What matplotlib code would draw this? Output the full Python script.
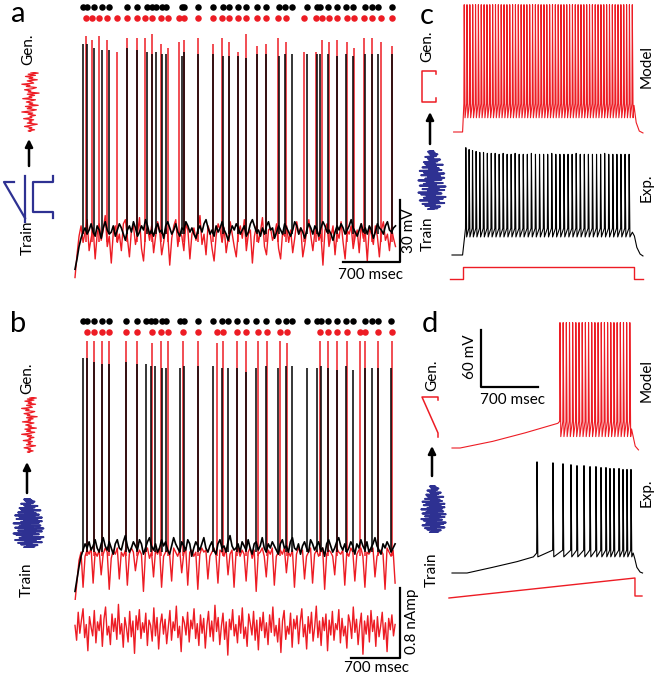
import numpy as np
import matplotlib
matplotlib.use("Agg")
import matplotlib.pyplot as plt

plt.rcParams['font.family'] = ['Lato', 'DejaVu Sans']

RED = '#ed1c24'
BLUE = '#2e3192'
W, H = 660, 676

# ---------------- data ----------------
# panel a : spike times (ms) and spike peaks (mV); black = experiment, red = model
a_blk_t = [98, 148, 234, 332, 418, 640, 763, 886, 947, 996, 1070, 1119, 1316, 1341, 1513, 1697,
           1820, 1894, 2005, 2103, 2239, 2349, 2509, 2583, 2669, 2853, 2977, 3014, 3112, 3223,
           3333, 3419, 3567, 3653, 3727, 3887]
a_blk_pk = [30, 30, 28, 27, 27, 28, 27, 26, 25, 26, 25, 25, 24, 26, 25, 25, 24, 24, 24, 23,
            25, 25, 24, 25, 25, 25, 25, 25, 25, 24, 25, 24, 25, 25, 25, 25]
a_red_t = [135, 209, 295, 394, 517, 640, 763, 861, 947, 1058, 1144, 1279, 1341, 1513, 1697, 1808,
           1894, 2005, 2103, 2239, 2349, 2497, 2595, 2817, 2964, 3038, 3124, 3223, 3346, 3432,
           3555, 3653, 3764, 3899]
a_red_pk = [34, 32, 34, 32, 26, 33, 33, 33, 35, 30, 28, 31, 32, 33, 30, 33, 31, 26, 35, 29,
            30, 33, 31, 26, 26, 32, 31, 32, 31, 28, 33, 33, 31, 29]
a_dur = 3936
a_blk_v = [-79, -74, -68, -64, -61, -59, -62, -60, -57, -61, -63, -58, -60, -64, -59, -56, -60, -62, -61, -58,
           -63, -60, -57, -59, -62, -65, -60, -58, -61, -56, -59, -63, -61, -58, -60, -55, -58, -62, -60, -63,
           -59, -57, -61, -60, -64, -58, -56, -59, -62, -60, -57, -61, -63, -59, -60, -56, -58, -61, -59, -62,
           -64, -60, -58, -61, -57, -55, -59, -62, -60, -63, -58, -61, -59, -56, -60, -62, -65, -61, -58, -60,
           -57, -59, -62, -60, -58, -63, -61, -57, -55, -58, -61, -60, -63, -59, -62, -58, -56, -60, -59, -64,
           -61, -58, -60, -62, -57, -59, -61, -63, -60, -56, -58, -62, -59, -61, -64, -60, -57, -59, -62, -58,
           -60, -63, -59, -56, -58, -61, -60, -62, -65, -61, -58, -60, -57, -59, -62, -60, -58, -55, -59, -61,
           -63, -60, -57, -61, -59, -62, -58, -60, -64, -61, -57, -59, -60, -62, -58, -56, -60, -61, -59, -58]
a_red_v = [-83, -72, -63, -58, -66, -61, -55, -70, -64, -59, -74, -62, -57, -65, -60, -53, -68, -63, -76, -61,
           -58, -66, -62, -70, -57, -55, -64, -73, -60, -58, -67, -62, -54, -69, -75, -61, -59, -65, -58, -71,
           -63, -56, -60, -72, -66, -59, -62, -77, -64, -58, -55, -68, -61, -63, -70, -57, -60, -74, -62, -59,
           -65, -60, -53, -67, -62, -72, -58, -61, -69, -75, -63, -57, -60, -66, -59, -71, -64, -56, -62, -68,
           -73, -61, -58, -64, -55, -70, -62, -60, -76, -63, -58, -66, -61, -54, -68, -72, -60, -59, -65, -62,
           -57, -69, -74, -61, -63, -58, -66, -60, -71, -64, -56, -62, -59, -73, -67, -60, -55, -63, -70, -61,
           -59, -65, -62, -77, -60, -57, -68, -63, -58, -72, -61, -64, -56, -66, -74, -60, -62, -58, -69, -63,
           -60, -71, -57, -64, -61, -75, -59, -62, -67, -58, -63, -73, -60, -56, -65, -62, -70, -59, -64, -68]

# panel b
b_blk_t = [114, 171, 272, 386, 486, 729, 886, 1015, 1086, 1143, 1243, 1300, 1500, 1558, 1758, 1972,
           2101, 2186, 2315, 2444, 2586, 2729, 2901, 3015, 3101, 3315, 3458, 3515, 3615, 3744,
           3873, 3973, 4144, 4244, 4330, 4516]
b_blk_pk = [32, 32, 30, 29, 29, 30, 29, 29, 28, 28, 27, 27, 27, 28, 28, 28, 27, 27, 27, 25,
            27, 28, 27, 28, 28, 27, 27, 28, 27, 26, 28, 26, 27, 27, 27, 27]
b_red_t = [171, 272, 386, 486, 729, 886, 1100, 1229, 1329, 1543, 1758, 2029, 2115, 2315, 2444,
           2615, 2744, 2929, 3030, 3501, 3615, 3744, 3887, 4073, 4144, 4330, 4530]
b_red_pk = [40, 40, 40, 40, 40, 40, 39, 40, 40, 40, 40, 39, 40, 40, 40,
            40, 40, 40, 39, 40, 40, 40, 40, 40, 40, 40, 40]
b_dur = 4573
b_blk_v = [-81, -75, -69, -64, -61, -58, -60, -57, -61, -59, -56, -60, -62, -58, -55, -59, -61, -57, -60, -63,
           -58, -56, -60, -61, -57, -54, -59, -62, -60, -57, -59, -61, -56, -58, -63, -60, -57, -55, -59, -61,
           -58, -62, -60, -56, -59, -57, -61, -63, -59, -55, -58, -60, -62, -57, -59, -61, -56, -58, -64, -60,
           -57, -59, -61, -58, -55, -60, -62, -59, -57, -61, -63, -58, -56, -60, -59, -62, -57, -54, -59, -61,
           -60, -58, -62, -57, -59, -61, -56, -60, -63, -58, -57, -61, -59, -55, -60, -62, -58, -60, -57, -59,
           -61, -63, -58, -56, -60, -59, -62, -57, -55, -60, -61, -58, -63, -59, -57, -60, -62, -56, -58, -61,
           -59, -57, -61, -60, -64, -58, -56, -59, -62, -60, -57, -55, -59, -61, -58, -62, -60, -57, -59, -63,
           -58, -60, -56, -59, -61, -57, -62, -60, -58, -55, -59, -61, -63, -58, -60, -57, -59, -62, -60, -58]
b_red_v = [-86, -76, -66, -62, -79, -64, -61, -63, -60, -77, -62, -64, -61, -73, -63, -60, -62, -80, -65, -61,
           -63, -60, -75, -62, -64, -61, -78, -63, -60, -62, -71, -64, -61, -63, -81, -62, -60, -65, -62, -74,
           -61, -63, -60, -79, -64, -62, -61, -63, -76, -60, -62, -64, -61, -72, -63, -60, -78, -62, -61, -64,
           -62, -80, -63, -60, -62, -61, -75, -64, -62, -60, -63, -77, -61, -62, -64, -60, -73, -63, -61, -79,
           -62, -60, -64, -61, -63, -76, -62, -60, -65, -61, -81, -63, -62, -60, -64, -74, -61, -63, -60, -78,
           -64, -62, -61, -63, -60, -72, -62, -64, -61, -79, -63, -60, -62, -61, -75, -64, -62, -60, -77, -63,
           -61, -64, -62, -60, -80, -63, -61, -62, -64, -73, -60, -62, -63, -61, -78, -62, -64, -60, -62, -76,
           -63, -61, -60, -64, -79, -62, -63, -61, -60, -74, -64, -62, -61, -63, -80, -60, -62, -64, -61, -77]
# injected current (nA)
b_i = [0.03, -0.14, 0.18, -0.06, 0.09, 0.22, -0.11, 0.04, -0.26, 0.13, 0.01, -0.09, 0.20, -0.17, 0.07, -0.03, 0.15, -0.21, 0.10, 0.24,
       -0.08, 0.02, -0.19, 0.16, -0.04, 0.11, -0.13, 0.27, -0.07, 0.05, -0.22, 0.12, 0.00, -0.16, 0.19, -0.10, 0.08, -0.29, 0.14, -0.02,
       0.21, -0.12, 0.06, -0.05, 0.17, -0.20, 0.09, 0.03, -0.15, 0.23, -0.09, 0.12, -0.24, 0.04, 0.16, -0.07, 0.10, -0.18, 0.01, 0.20,
       -0.14, 0.07, -0.03, 0.25, -0.11, 0.02, -0.27, 0.13, 0.06, -0.08, 0.18, -0.16, 0.09, -0.01, 0.22, -0.12, 0.05, -0.20, 0.15, -0.06,
       0.11, -0.23, 0.03, 0.19, -0.10, 0.08, -0.15, 0.26, -0.04, 0.12, -0.19, 0.02, 0.17, -0.13, 0.07, -0.31, 0.10, -0.02, 0.21, -0.09,
       0.04, -0.17, 0.14, -0.06, 0.23, -0.12, 0.01, -0.21, 0.16, 0.05, -0.08, 0.19, -0.14, 0.09, -0.25, 0.12, -0.03, 0.18, -0.11, 0.06,
       -0.19, 0.15, -0.05, 0.24, -0.09, 0.03, -0.16, 0.11, -0.28, 0.08, 0.20, -0.13, 0.02, -0.07, 0.17, -0.22, 0.10, -0.01, 0.14, -0.18,
       0.07, 0.22, -0.10, 0.04, -0.24, 0.13, -0.06, 0.18, -0.15, 0.01, 0.25, -0.11, 0.08, -0.20, 0.12, -0.03, 0.16, -0.26, 0.09, -0.08,
       0.19, -0.14, 0.05, -0.02, 0.21, -0.17, 0.11, -0.09, 0.02, -0.23, 0.15, 0.06, -0.12, 0.24, -0.05, 0.10, -0.19, 0.03, 0.17, -0.30,
       0.08, -0.07, 0.14, -0.16, 0.20, -0.04, 0.09, -0.21, 0.13, -0.10, 0.02, 0.18, -0.13, 0.06, -0.27, 0.11, -0.02, 0.15, -0.09, 0.04]

# panel c : step current, model (red) and experiment (black)
c_mod_t = [150, 184, 219, 254, 289, 324, 359, 394, 429, 464, 499, 534, 569, 604, 639, 674, 709, 744,
           779, 814, 849, 884, 919, 954, 989, 1024, 1059, 1094, 1129, 1164, 1199, 1234, 1269, 1304,
           1339, 1374, 1409, 1444, 1479, 1514, 1549, 1584, 1619, 1654, 1689, 1724, 1759, 1794, 1829,
           1864, 1899, 1934, 1969, 2004, 2039, 2074, 2109, 2144, 2179, 2214]
c_mod_pk = 64
c_exp_t = [170, 210, 252, 296, 341, 387, 434, 482, 530, 579, 628, 677, 726, 775, 825, 875, 925, 975,
           1025, 1075, 1125, 1175, 1225, 1275, 1325, 1375, 1425, 1475, 1525, 1575, 1625, 1675, 1725,
           1775, 1825, 1875, 1925, 1975, 2025, 2075, 2125, 2175]
c_exp_pk = [43, 41, 40, 39, 38, 38, 37, 37, 37, 36, 37, 36, 36, 37, 36, 36, 36, 37, 36, 36,
            36, 36, 37, 36, 36, 36, 36, 36, 37, 36, 36, 36, 36, 36, 36, 37, 36, 36, 36, 36, 36, 36]
c_stim_t = [-20, 130, 130, 2235, 2235, 2345]
c_stim_i = [0, 0, 0.3, 0.3, 0, 0]

# panel d : ramp current
d_mod_pre_t = [0, 100, 500, 900, 1300]
d_mod_pre_v = [-70, -70, -63, -54, -44]
d_mod_t = [1326, 1365, 1404, 1443, 1482, 1521, 1560, 1599, 1638, 1677, 1716, 1755, 1794, 1833,
           1872, 1911, 1950, 1989, 2028, 2067, 2106, 2145, 2184]
d_mod_pk = 62
d_exp_pre_t = [0, 185, 500, 800, 1000, 1040]
d_exp_pre_v = [-70, -70, -64, -58, -53, -49]
d_exp_t = [1044, 1240, 1363, 1461, 1535, 1621, 1695, 1768, 1830, 1891, 1940, 1989, 2051, 2100, 2149, 2198]
d_exp_pk = [47, 46, 45, 44, 43, 43, 42, 42, 41, 41, 40, 40, 40, 39, 39, 39]
d_stim_t = [-37, 2247, 2247, 2333]
d_stim_i = [0, 0.5, 0.05, 0.05]

# icon stimuli (normalised)
gen_icon = [0.1, -0.2, 0.5, -0.1, 0.2, -0.6, 0.1, 0.8, -0.3, 0.2, -0.1, 0.4, -0.7, 0.2, 0.0, 0.6, -0.2,
            0.3, -0.9, 0.1, 0.7, -0.3, 0.2, -0.5, 0.9, -0.1, 0.3, -0.4, 0.1, 0.6, -0.8, 0.2, -0.1, 0.5,
            -0.3, 1.0, -0.2, 0.1, -0.6, 0.3, 0.7, -0.4, 0.0, -0.9, 0.4, 0.2, -0.3, 0.8, -0.1, 0.3, -0.5,
            0.6, -0.2, 0.9, 0.1]
train_icon = [0.1, -0.3, 0.4, -0.1, 0.6, -0.5, 0.2, -0.7, 0.9, -0.2, 0.5, -0.9, 0.3, 0.8, -0.6, 1.0,
              -0.4, 0.2, -0.8, 0.7, -1.0, 0.4, -0.3, 0.9, -0.7, 0.5, -0.2, 1.0, -0.9, 0.3, -0.6, 0.8,
              -0.4, 0.1, -1.0, 0.7, -0.5, 0.9, -0.3, 0.6, -0.8, 0.2, 0.9, -0.6, 0.4, -0.9, 0.7, -0.2,
              0.5, -0.7, 0.3, -0.4, 0.8, -0.5, 0.2, -0.6, 0.4, -0.2, 0.6, -0.3, 0.1, -0.5, 0.3, -0.1,
              0.4, -0.2, 0.2, -0.3, 0.1, -0.1]

# ---------------- figure ----------------
fig = plt.figure(figsize=(W / 100, H / 100), dpi=100)


def box_ax(l, t, r, b):
    ax = fig.add_axes([l / W, 1 - b / H, (r - l) / W, (b - t) / H])
    ax.axis('off')
    return ax


def tx(px, m):
    return m[1] + (px - m[0]) * m[2]


def vy(py, m):
    return m[1] - (py - m[0]) * m[2]


def trace_ax(box, xm, ym):
    ax = box_ax(*box)
    l, t, r, b = box
    ax.set_xlim(tx(l, xm), tx(r, xm))
    ax.set_ylim(vy(b, ym), vy(t, ym))
    return ax


def spike_wave(pre_t, pre_v, spikes, peaks, thr, trough, post_t, post_v):
    xs, ys = list(pre_t), list(pre_v)
    for s, p in zip(spikes, np.broadcast_to(peaks, len(spikes))):
        xs += [s - 4, s, s + 10]
        ys += [thr, p, trough]
    return xs + list(post_t), ys + list(post_v)


def icon(box, vals, color, lw=1.0):
    ax = box_ax(*box)
    ax.plot(vals, np.arange(len(vals)), color=color, lw=lw)
    ax.set_xlim(-1.1, 1.1)
    ax.set_ylim(0, len(vals) - 1)


ov = box_ax(0, 0, W, H)
ov.set_xlim(0, W)
ov.set_ylim(H, 0)

lab = dict(fontsize=11, rotation=90, ha='center', va='center')
big = dict(fontsize=21, ha='center', va='center')


def arrow(x, y0, y1):
    ov.annotate('', xy=(x, y1), xytext=(x, y0),
                arrowprops=dict(arrowstyle='-|>', color='k', lw=1.8, mutation_scale=11, shrinkA=0, shrinkB=0))


# ---- panel a ----
xa = (75, 0, 700 / 57)
ya = (230, -60, 30 / 62)
ax = trace_ax((60, 0, 420, 290), xa, ya)
ax.plot(np.linspace(0, a_dur, len(a_red_v)), a_red_v, color=RED, lw=1.0)
ax.vlines(a_red_t, -66, a_red_pk, color=RED, lw=1.1)
ax.plot(np.linspace(0, a_dur, len(a_blk_v)), a_blk_v, color='k', lw=1.2)
ax.vlines(a_blk_t, -62, a_blk_pk, color='k', lw=1.1)
ax.scatter(a_blk_t, [vy(7, ya)] * len(a_blk_t), s=22, color='k', lw=0)
ax.scatter(a_red_t, [vy(18, ya)] * len(a_red_t), s=22, color=RED, lw=0)
x1, y1 = tx(400, xa), vy(262, ya)
ax.plot([x1 - 700, x1, x1], [y1, y1, y1 + 30], color='k', lw=1.6)
ov.text(371, 275, '700 msec', fontsize=11, ha='center', va='center')
ov.text(409, 231, '30 mV', **lab)

ov.text(18, 14, 'a', **big)
ov.text(28, 49, 'Gen.', **lab)
ov.text(28, 238, 'Train', **lab)
icon((20, 72, 40, 132), gen_icon, RED, 0.9)
arrow(29, 166, 139)
ov.plot([25, 25], [176, 222], color=BLUE, lw=1.6)
ov.plot([25, 4, 14], [218, 182, 182], color=BLUE, lw=1.6)
ov.plot([53, 53, 33, 33, 53, 53], [176, 182, 182, 212, 212, 218], color=BLUE, lw=1.6)

# ---- panel b ----
xb = (75, 0, 700 / 49)
yb = (548, -60, 30 / 62)
ax = trace_ax((60, 300, 420, 600), xb, yb)
ax.plot(np.linspace(0, b_dur, len(b_red_v)), b_red_v, color=RED, lw=1.0)
ax.vlines(b_red_t, -64, b_red_pk, color=RED, lw=1.1)
ax.plot(np.linspace(0, b_dur, len(b_blk_v)), b_blk_v, color='k', lw=1.2)
ax.vlines(b_blk_t, -62, b_blk_pk, color='k', lw=1.1)
ax.scatter(b_blk_t, [vy(321, yb)] * len(b_blk_t), s=22, color='k', lw=0)
ax.scatter(b_red_t, [vy(332, yb)] * len(b_red_t), s=22, color=RED, lw=0)

yi = (628, 0, 0.8 / 70)
ax = trace_ax((60, 580, 420, 676), xb, yi)
ax.plot(np.linspace(0, b_dur, len(b_i)), b_i, color=RED, lw=1.0)
x1, y1 = tx(400, xb), vy(658, yi)
ax.plot([x1 - 700, x1, x1], [y1, y1, y1 + 0.8], color='k', lw=1.6)
ov.text(376, 668, '700 msec', fontsize=11, ha='center', va='center')
ov.text(412, 621, '0.8 nAmp', **lab)

ov.text(18, 324, 'b', **big)
ov.text(27, 378, 'Gen.', **lab)
ov.text(27, 580, 'Train', **lab)
icon((20, 397, 38, 453), gen_icon, RED, 0.9)
arrow(27, 493, 462)
icon((12, 498, 45, 548), train_icon, BLUE, 1.4)

# ---- panel c ----
xc = (452, 0, 700 / 57)
kv = 60 / 57
ym = (132, -70, kv)
ax = trace_ax((445, 0, 655, 140), xc, ym)
t, v = spike_wave([20, 130], [-70, -70], c_mod_t, c_mod_pk, -40, -55,
                  [2235, 2262, 2300, 2345], [-42, -60, -69, -71])
ax.plot(t, v, color=RED, lw=0.8)
ye = (255, -70, kv)
ax = trace_ax((445, 140, 655, 265), xc, ye)
t, v = spike_wave([0, 130], [-70, -70], c_exp_t, c_exp_pk, -42, -51,
                  [2215, 2240, 2270, 2310, 2345], [-46, -50, -62, -69, -71])
ax.plot(t, v, color='k', lw=0.8)
ys = (279, 0, 0.025)
ax = trace_ax((445, 262, 655, 290), xc, ys)
ax.plot(c_stim_t, c_stim_i, color=RED, lw=1.0)

ov.text(427, 16, 'c', **big)
ov.text(427, 46, 'Gen.', **lab)
ov.text(428, 234, 'Train', **lab)
ov.text(647, 67, 'Model', **lab)
ov.text(647, 188, 'Exp.', **lab)
ov.plot([436, 436, 422, 422, 436, 436], [74, 71, 71, 102, 102, 98], color=RED, lw=1.1)
arrow(430, 144, 112)
icon((417, 150, 447, 210), train_icon, BLUE, 1.4)

# ---- panel d ----
ym = (448, -70, kv)
ax = trace_ax((445, 300, 655, 460), xc, ym)
t, v = spike_wave(d_mod_pre_t, d_mod_pre_v, d_mod_t, d_mod_pk, -42, -58,
                  [2205, 2225, 2250, 2290], [-50, -58, -68, -72])
ax.plot(t, v, color=RED, lw=0.8)
x1, y1 = tx(481, xc), vy(387, ym)
ax.plot([x1, x1, x1 + 700], [y1 + 60, y1, y1], color='k', lw=1.6)
ye = (573, -70, kv)
ax = trace_ax((445, 455, 655, 580), xc, ye)
t, v = spike_wave(d_exp_pre_t, d_exp_pre_v, d_exp_t, d_exp_pk, -46, -53,
                  [2225, 2245, 2270, 2310, 2340], [-49, -55, -64, -69, -70])
ax.plot(t, v, color='k', lw=0.8)
ys = (598, 0, 0.025)
ax = trace_ax((445, 570, 655, 610), xc, ys)
ax.plot(d_stim_t, d_stim_i, color=RED, lw=1.0)

ov.text(430, 324, 'd', **big)
ov.text(470, 357, '60 mV', **lab)
ov.text(512, 400, '700 msec', fontsize=11, ha='center', va='center')
ov.text(432, 375, 'Gen.', **lab)
ov.text(432, 570, 'Train', **lab)
ov.text(647, 381, 'Model', **lab)
ov.text(647, 493, 'Exp.', **lab)
ov.plot([438, 438, 422, 438, 438], [400, 397, 397, 433, 437], color=RED, lw=1.1)
arrow(432, 476, 446)
icon((420, 485, 447, 533), train_icon, BLUE, 1.4)

fig.savefig('out.png', dpi=100)
